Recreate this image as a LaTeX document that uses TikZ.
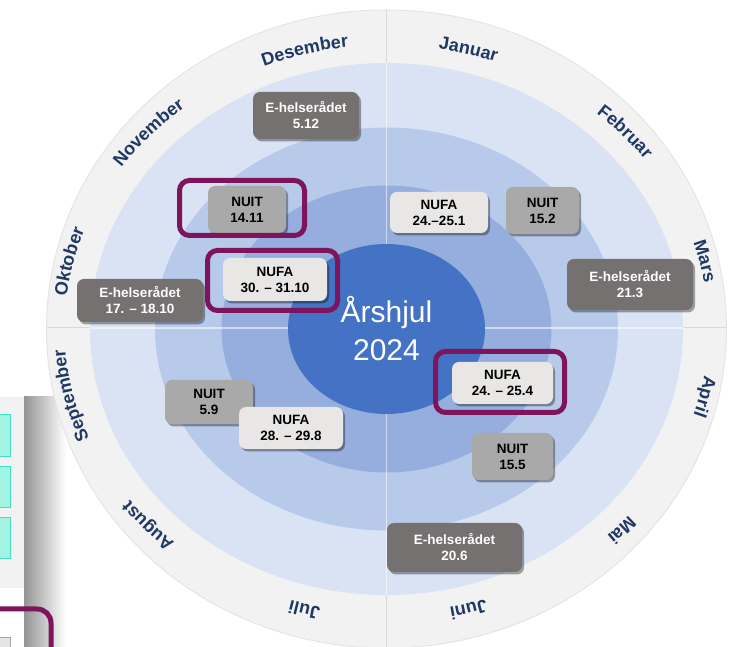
\documentclass[tikz,border=0pt]{standalone}
\usepackage{fontspec}
\setmainfont{Liberation Sans}
\usetikzlibrary{decorations.text,shadows,calc}
\definecolor{ringout}{HTML}{F2F2F2}
\definecolor{ringA}{HTML}{DAE3F3}
\definecolor{ringB}{HTML}{B8CAEA}
\definecolor{ringC}{HTML}{95AEDD}
\definecolor{ringD}{HTML}{4472C4}
\definecolor{mblue}{HTML}{1F3864}
\definecolor{ehfill}{HTML}{767171}
\definecolor{nuitfill}{HTML}{A9A9A9}
\definecolor{nufafill}{HTML}{E8E7E6}
\definecolor{hlpurple}{HTML}{7E155C}
\definecolor{cyanfill}{HTML}{A2F5E2}
\definecolor{cyanline}{HTML}{3FE0C6}
\newcommand\mfont{\fontsize{18}{18}\selectfont\bfseries}
\newcommand\monthlabel[2]{%
  \pgfmathsetmacro\msa{#1+32}%
  \pgfmathsetmacro\mea{#1-32}%
  \path[decorate,decoration={text along path,text align=center,text color=mblue,text={|\mfont|#2}}]
    (C) ++(\msa:322 and 284) arc[start angle=\msa,end angle=\mea,x radius=322,y radius=284];}
\begin{document}
\begin{tikzpicture}[x=1pt,y=1pt,
  boxbase/.style={rounded corners=7pt,inner sep=0pt,align=center,
    font=\fontsize{13.5}{16}\selectfont\bfseries,
    drop shadow={shadow xshift=2pt,shadow yshift=-2.5pt,opacity=0.35,fill=black}},
  ehbox/.style={boxbase,fill=ehfill,text=white},
  nuitbox/.style={boxbase,fill=nuitfill,text=black},
  nufabox/.style={boxbase,fill=nufafill,text=black},
  hlbox/.style={draw=hlpurple,line width=5pt,rounded corners=10pt,inner sep=0pt},
  divline/.style={draw=black!15,line width=1pt},
  divlight/.style={draw=white,opacity=0.55,line width=1.2pt}]
\useasboundingbox (0,0) rectangle (737,647);
\clip (0,0) rectangle (737,647);
\fill[white] (0,0) rectangle (737,647);
\coordinate (C) at (386.5,318);
% left cropped interface fragment
\fill[left color=black!42,right color=white] (24,0) rectangle (66,250);
\fill[black!5] (0,59) rectangle (24,250);
\draw[fill=cyanfill,draw=cyanline,line width=1pt] (-3,190) rectangle (10,232);
\draw[fill=cyanfill,draw=cyanline,line width=1pt] (-3,139) rectangle (10,180);
\draw[fill=cyanfill,draw=cyanline,line width=1pt] (-3,88) rectangle (10,129);
\draw[fill=black!10,draw=black!35] (-3,-3) rectangle (10,10);
\draw[draw=hlpurple,line width=5pt,rounded corners=14pt] (-10,38) -| (51,-20);
% rings
\fill[ringout] (C) ellipse[x radius=340,y radius=319];
\draw[black!10,line width=1pt] (C) ellipse[x radius=340,y radius=319];
\draw[divline] ($(C)+(0,319)$) coordinate (vtop) -- ($(C)+(0,-319)$) coordinate (vbot);
\draw[divline] ($(C)+(-340,1)$) coordinate (hleft) -- ($(C)+(340,1)$) coordinate (hright);
\fill[ringA] (C) ellipse[x radius=296.5,y radius=266];
\fill[ringB] (C) ellipse[x radius=231.5,y radius=201.5];
\fill[ringC] (C) ellipse[x radius=165,y radius=143.5];
\begin{scope}
\clip (C) ellipse[x radius=296.5,y radius=266];
\draw[divlight] (vtop) -- (vbot);
\draw[divlight] (hleft) -- (hright);
\end{scope}
\fill[ringD] (C) ellipse[x radius=98.5,y radius=85];
\node[text=white,align=center,font=\fontsize{30}{38}\selectfont] (title) at (386.5,318) {Årshjul\\2024};
% months
\monthlabel{105}{Desember}
\monthlabel{75}{Januar}
\monthlabel{42}{Februar}
\monthlabel{13}{Mars}
\monthlabel{-13}{April}
\monthlabel{-43}{Mai}
\monthlabel{-75}{Juni}
\monthlabel{-105}{Juli}
\monthlabel{-138}{August}
\monthlabel{-167}{September}
\monthlabel{167}{Oktober}
\monthlabel{138}{November}
% event boxes
\node[ehbox,minimum width=106pt,minimum height=47pt] (eh512) at (306,531.5) {E-helserådet\\5.12};
\node[nuitbox,minimum width=78pt,minimum height=47pt] (nuit1411) at (247,437.5) {NUIT\\14.11};
\node[nufabox,minimum width=104pt,minimum height=43pt] (nufa3010) at (275,367.5) {NUFA\\30. – 31.10};
\node[ehbox,minimum width=126pt,minimum height=43pt] (eh1710) at (140,346.5) {E-helserådet\\17. – 18.10};
\node[nufabox,minimum width=98pt,minimum height=41pt] (nufa241) at (439,434.5) {NUFA\\24.–25.1};
\node[nuitbox,minimum width=73pt,minimum height=47pt] (nuit152) at (542.5,436.5) {NUIT\\15.2};
\node[ehbox,minimum width=126pt,minimum height=51pt] (eh213) at (630,362.5) {E-helserådet\\21.3};
\node[nuitbox,minimum width=88pt,minimum height=44pt] (nuit59) at (209,245) {NUIT\\5.9};
\node[nufabox,minimum width=104pt,minimum height=42pt] (nufa288) at (291,219) {NUFA\\28. – 29.8};
\node[nufabox,minimum width=101pt,minimum height=42pt] (nufa244) at (502.5,264) {NUFA\\24. – 25.4};
\node[nuitbox,minimum width=81pt,minimum height=47pt] (nuit155) at (512.5,190.5) {NUIT\\15.5};
\node[ehbox,minimum width=135pt,minimum height=49pt] (eh206) at (454.5,99.5) {E-helserådet\\20.6};
% highlights
\node[hlbox,minimum width=125pt,minimum height=55pt] (hl1) at (242,439) {};
\node[hlbox,minimum width=130pt,minimum height=60pt] (hl2) at (272.5,366.5) {};
\node[hlbox,minimum width=129pt,minimum height=61pt] (hl3) at (500,265) {};
\end{tikzpicture}
\end{document}
